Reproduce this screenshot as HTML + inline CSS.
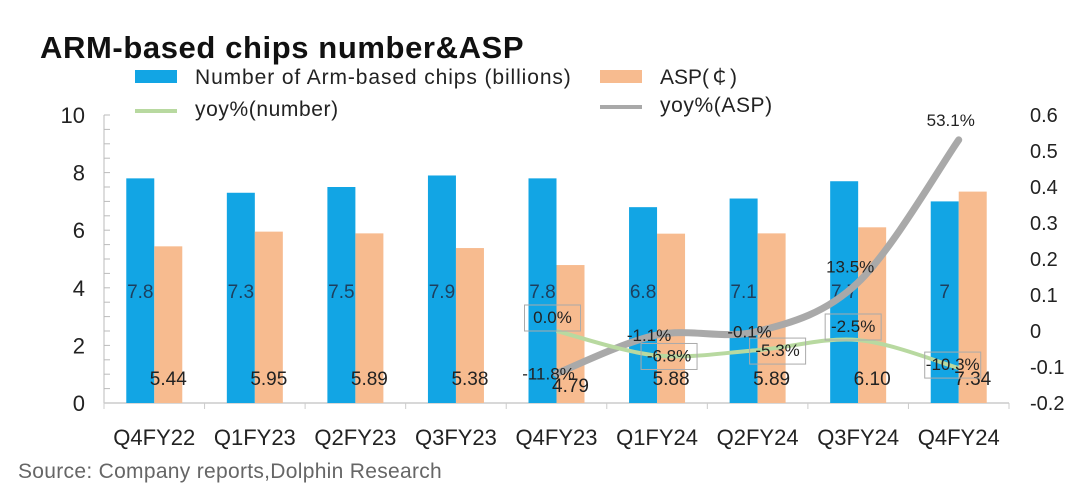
<!DOCTYPE html>
<html><head><meta charset="utf-8"><style>
body{margin:0;background:#fff;}
svg{display:block;font-family:"Liberation Sans","DejaVu Sans",sans-serif;}
</style></head><body>
<svg id="chart" width="1080" height="497" viewBox="0 0 1080 497">
<rect x="0" y="0" width="1080" height="497" fill="#fff"/>
<text x="40" y="58" font-size="31" font-weight="bold" fill="#111" letter-spacing="0.6">ARM-based  chips number&amp;ASP</text>
<g>
<rect x="135" y="70" width="42" height="13" fill="#12a5e4"/>
<text x="195" y="84" font-size="21" fill="#222" letter-spacing="0.9">Number of Arm-based chips (billions)</text>
<rect x="600" y="70" width="42" height="13" fill="#f7bb8f"/>
<text x="660" y="84" font-size="21" fill="#222">ASP(￠)</text>
<line x1="135" y1="111" x2="177" y2="111" stroke="#b8d9a0" stroke-width="4"/>
<text x="195" y="116" font-size="21" fill="#222" letter-spacing="0.6">yoy%(number)</text>
<line x1="600" y1="107" x2="642" y2="107" stroke="#a9a9a9" stroke-width="4"/>
<text x="660" y="112" font-size="21" fill="#222" letter-spacing="0.6">yoy%(ASP)</text>
</g>
<g id="axes"></g>
<g id="marks"></g>
<text x="18" y="478" font-size="21" fill="#666" letter-spacing="0.3">Source: Company reports,Dolphin Research</text>
</svg>
<script>
const categories = ["Q4FY22","Q1FY23","Q2FY23","Q3FY23","Q4FY23","Q1FY24","Q2FY24","Q3FY24","Q4FY24"];
const chipNumbers = [7.8,7.3,7.5,7.9,7.8,6.8,7.1,7.7,7.0];
const chipLabels = ["7.8","7.3","7.5","7.9","7.8","6.8","7.1","7.7","7"];
const aspValues = [5.44,5.95,5.89,5.38,4.79,5.88,5.89,6.10,7.34];
const aspLabels = ["5.44","5.95","5.89","5.38","4.79","5.88","5.89","6.10","7.34"];
const yoyNumber = [null,null,null,null,0.0,-0.068,-0.053,-0.025,-0.103];
const yoyNumberLabels = ["","","","","0.0%","-6.8%","-5.3%","-2.5%","-10.3%"];
const yoyAsp = [null,null,null,null,-0.118,-0.011,-0.001,0.135,0.531];
const yoyAspLabels = ["","","","","-11.8%","-1.1%","-0.1%","13.5%","53.1%"];
const leftTicks = [0,2,4,6,8,10];
const rightTicks = [-0.2,-0.1,0,0.1,0.2,0.3,0.4,0.5,0.6];

const NS="http://www.w3.org/2000/svg";
const X0=104, X1=1009, Y0=403, Y1=115;
const band=(X1-X0)/categories.length;
const xc=i=>X0+band*(i+0.5);
const yL=v=>Y0-(v/10)*(Y0-Y1);
const yR=v=>Y0-((v+0.2)/0.8)*(Y0-Y1);
function mk(tag,attrs,parent,text){const e=document.createElementNS(NS,tag);for(const k in attrs)e.setAttribute(k,attrs[k]);if(text!==undefined)e.textContent=text;parent.appendChild(e);return e;}
const axes=document.getElementById('axes'), marks=document.getElementById('marks');

let e;
e=mk('line',{x1:X0,y1:Y1,x2:X0,y2:Y0,stroke:'#bbb','stroke-width':1},axes);


for(let v=0;v<=10;v+=0.5){e=mk('line',{x1:X0,y1:yL(v),x2:X0+6,y2:yL(v),stroke:'#bbb'},axes);

}
e=mk('line',{x1:X0,y1:Y0,x2:X1,y2:Y0,stroke:'#ccc','stroke-width':1.5},axes);


for(let i=0;i<=categories.length;i++){e=mk('line',{x1:X0+band*i,y1:Y0,x2:X0+band*i,y2:Y0+6,stroke:'#ccc'},axes);

}
leftTicks.forEach(v=>{e=mk('text',{x:85,y:yL(v)+8,'font-size':22,'text-anchor':'end',fill:'#222'},axes,String(v));

});
rightTicks.forEach(v=>{e=mk('text',{x:1030,y:yR(v)+7,'font-size':20,fill:'#222'},axes,String(Math.round(v*10)/10));

});
categories.forEach((c,i)=>{e=mk('text',{x:xc(i),y:445,'font-size':22,'text-anchor':'middle',fill:'#222'},axes,c);

});

const bw=28;
categories.forEach((c,i)=>{
 e=mk('rect',{x:xc(i)-bw,y:yL(chipNumbers[i]),width:bw,height:Y0-yL(chipNumbers[i]),fill:'#12a5e4'},marks);
 
 
 e=mk('rect',{x:xc(i),y:yL(aspValues[i]),width:bw,height:Y0-yL(aspValues[i]),fill:'#f7bb8f'},marks);
 
 
});
categories.forEach((c,i)=>{
 e=mk('text',{x:xc(i)-14,y:298,'font-size':19,'text-anchor':'middle',fill:'#1d3f5e'},marks,chipLabels[i]);
 
 
 e=mk('text',{x:xc(i)+14,y:i===4?392:385,'font-size':19,'text-anchor':'middle',fill:'#222'},marks,aspLabels[i]);
 
 
});
function path(arr,fy){
 const p=[];arr.forEach((v,i)=>{if(v!==null)p.push([xc(i),fy(v)]);});
 let d='M'+p[0][0]+' '+p[0][1];
 for(let k=0;k<p.length-1;k++){
  const a=p[k-1]||p[k], b=p[k], c=p[k+1], n=p[k+2]||c;
  const c1=[b[0]+(c[0]-a[0])/6,b[1]+(c[1]-a[1])/6], c2=[c[0]-(n[0]-b[0])/6,c[1]-(n[1]-b[1])/6];
  d+=' C'+c1[0]+' '+c1[1]+' '+c2[0]+' '+c2[1]+' '+c[0]+' '+c[1];
 }
 return d;}
e=mk('path',{d:path(yoyAsp,yR),fill:'none',stroke:'#a9a9a9','stroke-width':7,'stroke-linejoin':'round','stroke-linecap':'round'},marks);


e=mk('path',{d:path(yoyNumber,yR),fill:'none',stroke:'#b8d9a0','stroke-width':4,'stroke-linejoin':'round'},marks);


yoyAsp.forEach((v,i)=>{if(v===null)return;
 e=mk('text',{x:xc(i)-8,y:yR(v)+(i===8?-14:i===7?-10:6),'font-size':17,'text-anchor':'middle',fill:'#222'},marks,yoyAspLabels[i]);
 
 });
yoyNumber.forEach((v,i)=>{if(v===null)return;
 const lx=xc(i)+(i===4?-4:i===5?12:i===6?20:i===8?-6:-5), ly=yR(v)+(i===5||i===6?6:i===8?2:-8);
 e=mk('rect',{x:lx-28,y:ly-18,width:56,height:26,fill:'none',stroke:'#aaa','stroke-width':1},marks);
 
 
 e=mk('text',{x:lx,y:ly,'font-size':17,'text-anchor':'middle',fill:'#222'},marks,yoyNumberLabels[i]);
 
 });
</script>
</body></html>
